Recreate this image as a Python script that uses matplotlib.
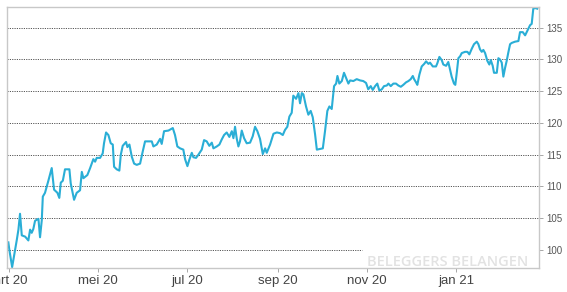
import numpy as np
import matplotlib
matplotlib.use("Agg")
import matplotlib.pyplot as plt
import matplotlib.dates as mdates
import pandas as pd

day_offsets = [
    -0.5, 0.2, 2.1, 5.3, 6.4, 7.5, 8.7, 11.0, 13.2, 14.4, 15.5, 16.6, 17.8, 20.1,
    21.2, 22.4, 23.1, 24.6, 25.8, 26.9, 29.2, 30.8, 33.1, 34.4, 35.4, 36.8, 38.3,
    41.3, 42.2, 44.5, 46.3, 48.6, 49.8, 50.9, 53.6, 55.5,
    57.7, 58.9, 60.0, 62.3, 64.1, 65.0, 66.4, 68.0, 69.6, 71.0, 71.9, 73.7, 75.5,
    76.5, 77.8, 80.1, 81.0, 82.4, 84.0, 85.6, 87.4, 89.7, 91.5, 93.1, 95.4, 97.7,
    98.8, 101.1, 103.4, 104.5, 106.1, 109.1, 112.1, 113.6, 115.2,
    117.1, 119.3, 120.5, 122.1, 123.4, 125.1, 126.2, 128.0, 129.6, 131.9, 133.5,
    135.3, 137.1, 138.8, 139.9, 142.2, 144.0, 145.6, 147.2, 149.0, 150.8, 152.5,
    153.6, 154.7, 155.9, 157.0, 158.1, 159.3, 160.9, 162.7, 165.0, 166.8, 168.4,
    170.0, 171.8, 173.7, 175.3, 176.4,
    178.7, 181.0, 183.3, 185.5, 187.4, 188.9, 190.5, 191.9, 193.5, 194.6, 196.5,
    198.1, 199.2, 200.4, 201.5, 203.3, 204.9, 206.5, 207.9, 209.5, 210.7, 212.9,
    214.8, 216.3, 217.9, 219.3, 220.9, 222.5, 223.9, 224.8, 226.1, 227.8, 229.3,
    230.7, 232.3, 233.5, 235.7, 238.0,
    240.3, 242.5, 244.4, 245.9, 247.6, 249.0, 250.6, 252.1, 253.5, 255.2, 256.7,
    258.6, 259.7, 261.3, 263.1, 264.9, 266.5, 268.2, 269.9, 271.8, 273.4, 275.0,
    276.4, 277.3, 278.6, 279.5, 280.9, 282.5, 284.2, 285.5, 287.1, 288.2, 290.1,
    292.3, 293.2, 294.6, 296.2, 297.3, 299.2, 300.7,
    301.9, 303.0, 304.6, 305.5, 306.5, 307.6, 308.8, 309.9, 312.2, 313.8, 315.1,
    316.8, 318.3, 320.2, 321.3, 322.4, 323.6, 324.7, 325.9, 327.4, 328.8, 329.8,
    331.1, 332.0, 333.9, 335.0, 336.1, 337.3, 338.4, 339.6, 340.7, 341.8, 343.0,
    344.1, 346.4, 348.7, 349.8, 351.7, 353.3, 354.8, 356.7, 357.8, 358.9, 360.1,
    361.6,
]
koers = [
    101.2, 100.0, 97.3, 101.6, 103.2, 105.7, 102.3, 102.1, 101.5, 103.2, 102.7,
    103.3, 104.6, 104.9, 102.0, 104.7, 108.4, 109.0, 110.0, 110.9, 112.9, 109.5,
    109.0, 108.2, 110.6, 110.9, 112.7, 112.7, 110.5, 107.9, 109.0, 109.4, 112.3,
    111.3, 111.8, 112.9,
    114.3, 113.9, 114.5, 114.5, 115.2, 116.8, 118.5, 118.1, 116.8, 116.6, 113.1,
    112.7, 112.5, 115.0, 116.4, 117.0, 116.2, 116.6, 114.7, 113.6, 113.4, 113.6,
    115.5, 117.1, 117.1, 117.1, 116.3, 116.6, 117.5, 116.7, 118.7, 118.8, 119.2,
    118.1, 116.3,
    116.0, 115.8, 114.3, 113.2, 114.2, 115.3, 114.6, 114.5, 115.0, 115.8, 117.3,
    117.1, 116.4, 116.9, 116.0, 116.3, 116.6, 117.4, 118.1, 118.5, 117.8, 118.7,
    117.6, 119.4, 117.5, 116.3, 117.1, 118.8, 117.6, 116.8, 116.9, 117.9, 119.4,
    118.7, 117.5, 115.1, 116.0, 115.3,
    116.6, 118.3, 118.5, 118.4, 118.1, 118.9, 119.4, 121.0, 121.6, 124.3, 123.8,
    124.7, 123.1, 124.7, 124.5, 122.6, 121.3, 121.9, 120.9, 118.2, 115.8, 115.9,
    116.0, 118.7, 121.9, 122.6, 122.2, 125.8, 126.2, 127.4, 126.2, 126.6, 127.9,
    127.1, 126.2, 126.7, 126.6, 126.9,
    126.7, 126.6, 126.3, 125.3, 125.8, 125.2, 125.8, 126.2, 125.1, 125.3, 125.8,
    125.9, 126.2, 125.8, 126.2, 126.2, 125.9, 125.7, 126.0, 126.4, 126.6, 126.9,
    127.4, 126.9, 126.4, 126.0, 127.6, 128.9, 129.3, 129.7, 129.3, 129.5, 128.9,
    128.9, 129.4, 130.4, 129.9, 129.2, 129.0, 129.6,
    128.4, 127.3, 126.2, 126.0, 127.9, 130.2, 130.5, 131.0, 131.2, 131.2, 130.8,
    131.7, 132.4, 132.8, 132.4, 131.6, 131.2, 131.5, 131.0, 129.8, 129.2, 129.9,
    129.0, 127.9, 127.9, 130.2, 130.0, 129.5, 127.3, 128.7, 129.8, 131.1, 132.4,
    132.6, 132.8, 132.9, 134.3, 134.3, 133.8, 134.5, 135.4, 135.6, 138.0, 138.1,
    138.0,
]

y_ticks = [100, 105, 110, 115, 120, 125, 130, 135]
x_tick_dates = ["2020-03-01", "2020-05-01", "2020-07-01", "2020-09-01",
                "2020-11-01", "2021-01-01"]
x_tick_labels = ["mrt 20", "mei 20", "jul 20", "sep 20", "nov 20", "jan 21"]

start = pd.Timestamp("2020-03-01")
dates = start + pd.to_timedelta(day_offsets, unit="D")

plt.rcParams["font.family"] = ["Liberation Sans", "DejaVu Sans"]

fig = plt.figure(figsize=(5.67, 2.92), dpi=100)
ax = fig.add_axes([7 / 567, 1 - 268 / 292, 532 / 567, 261 / 292])

ax.plot(dates, koers, color="#2aaed6", linewidth=1.5, solid_joinstyle="round")

ax.set_xlim(start - pd.Timedelta(hours=34), start + pd.Timedelta(days=362.8))
ax.set_ylim(97.16, 138.26)

# dotted gridlines, the bottom one stops before the watermark
for yv in y_ticks:
    xmax = 0.667 if yv == 100 else 1.0
    ax.axhline(yv, 0, xmax, color="#555555", linestyle=(0, (1.2, 1.2)),
               linewidth=0.7, zorder=0)

ax.yaxis.tick_right()
ax.set_yticks(y_ticks)
ax.set_yticklabels([str(v) for v in y_ticks])
ax.set_xticks(pd.to_datetime(x_tick_dates))
ax.set_xticklabels(x_tick_labels)

ax.tick_params(axis="y", direction="out", length=3, width=0.6, color="#999999",
               labelsize=7, labelcolor="#555555", pad=2)
ax.tick_params(axis="x", direction="out", length=3, width=0.6, color="#999999",
               labelsize=9.5, labelcolor="#444444", pad=2)

for sp in ax.spines.values():
    sp.set_color("#c8c8c8")
    sp.set_linewidth(1.0)

ax.text(0.677, 0.023, "BELEGGERS BELANGEN", transform=ax.transAxes,
        ha="left", va="center", fontsize=10.5, color="#e2e2e2",
        family="Open Sans", fontweight="semibold", zorder=1)

fig.savefig("out.png", dpi=100)
